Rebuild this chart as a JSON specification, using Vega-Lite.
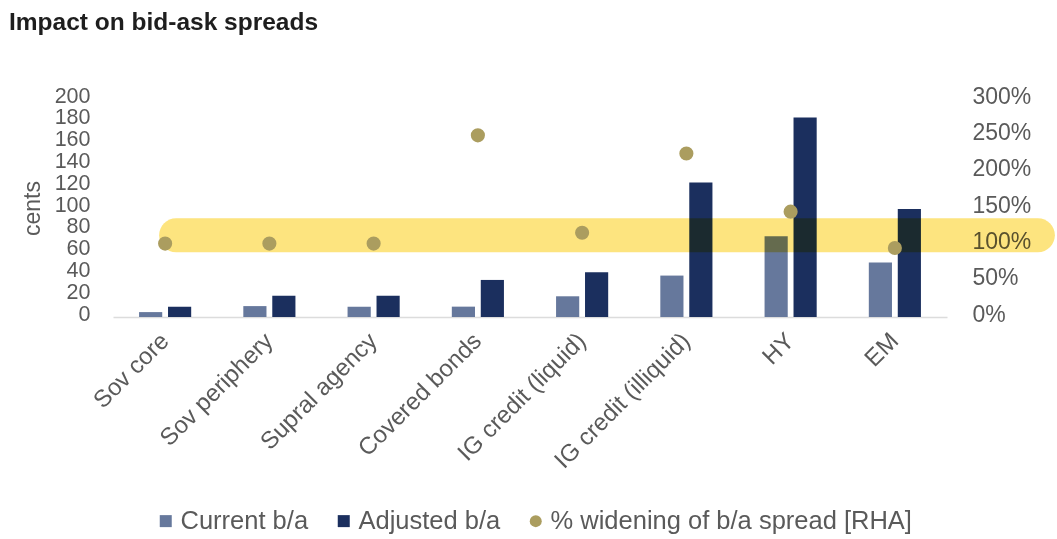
{
  "$schema": "https://vega.github.io/schema/vega-lite/v6.json",
  "width": 834,
  "height": 218,
  "autosize": {"type": "none"},
  "padding": {"left": 113, "top": 99, "right": 110, "bottom": 222},
  "background": "white",
  "title": {
    "text": "Impact on bid-ask spreads",
    "anchor": "start",
    "frame": "group",
    "dx": -104,
    "offset": 50,
    "fontSize": 24.5,
    "fontWeight": "bold",
    "color": "#1e1e1e",
    "font": "Liberation Sans"
  },
  "config": {
    "view": {"stroke": null},
    "font": "Liberation Sans",
    "axis": {
      "labelFont": "Liberation Sans",
      "labelColor": "#5a5a5a",
      "labelFontSize": 21.5,
      "titleFont": "Liberation Sans",
      "titleFontWeight": "normal",
      "titleColor": "#5a5a5a",
      "titleFontSize": 23,
      "grid": false,
      "ticks": false
    }
  },
  "datasets": {
    "bars": [
      {"category": "Sov core", "series": "Current b/a", "value": 4.5},
      {"category": "Sov core", "series": "Adjusted b/a", "value": 9.5},
      {"category": "Sov periphery", "series": "Current b/a", "value": 10},
      {"category": "Sov periphery", "series": "Adjusted b/a", "value": 19.5},
      {"category": "Supral agency", "series": "Current b/a", "value": 9.5},
      {"category": "Supral agency", "series": "Adjusted b/a", "value": 19.5},
      {"category": "Covered bonds", "series": "Current b/a", "value": 9.5},
      {"category": "Covered bonds", "series": "Adjusted b/a", "value": 34},
      {"category": "IG credit (liquid)", "series": "Current b/a", "value": 19},
      {"category": "IG credit (liquid)", "series": "Adjusted b/a", "value": 41},
      {"category": "IG credit (illiquid)", "series": "Current b/a", "value": 38},
      {"category": "IG credit (illiquid)", "series": "Adjusted b/a", "value": 123.5},
      {"category": "HY", "series": "Current b/a", "value": 74},
      {"category": "HY", "series": "Adjusted b/a", "value": 183},
      {"category": "EM", "series": "Current b/a", "value": 50},
      {"category": "EM", "series": "Adjusted b/a", "value": 99}
    ],
    "widening": [
      {"category": "Sov core", "series": "% widening of b/a spread [RHA]", "pct": 101},
      {"category": "Sov periphery", "series": "% widening of b/a spread [RHA]", "pct": 101},
      {"category": "Supral agency", "series": "% widening of b/a spread [RHA]", "pct": 101},
      {"category": "Covered bonds", "series": "% widening of b/a spread [RHA]", "pct": 250},
      {"category": "IG credit (liquid)", "series": "% widening of b/a spread [RHA]", "pct": 116},
      {"category": "IG credit (illiquid)", "series": "% widening of b/a spread [RHA]", "pct": 225},
      {"category": "HY", "series": "% widening of b/a spread [RHA]", "pct": 145},
      {"category": "EM", "series": "% widening of b/a spread [RHA]", "pct": 95}
    ],
    "highlight": [
      {"from": "Sov core", "to": "EM", "lo": 89, "hi": 136}
    ]
  },
  "encoding": {
    "x": {
      "field": "category",
      "type": "nominal",
      "scale": {
        "domain": ["Sov core", "Sov periphery", "Supral agency", "Covered bonds", "IG credit (liquid)", "IG credit (illiquid)", "HY", "EM"],
        "paddingInner": 0.5,
        "paddingOuter": 0.25
      },
      "axis": {
        "title": null,
        "labelAngle": -45,
        "labelAlign": "right",
        "labelBaseline": "middle",
        "labelFontSize": 24,
        "labelLimit": 400,
        "labelPadding": 20,
        "domain": true,
        "domainColor": "#dcdcdc",
        "domainWidth": 1.5
      }
    }
  },
  "layer": [
    {
      "data": {"name": "bars"},
      "mark": {"type": "bar"},
      "encoding": {
        "xOffset": {
          "field": "series",
          "type": "nominal",
          "sort": ["Current b/a", "Adjusted b/a"],
          "scale": {"paddingInner": 0.2}
        },
        "y": {
          "field": "value",
          "type": "quantitative",
          "scale": {"domain": [0, 200], "nice": false},
          "axis": {
            "orient": "left",
            "title": "cents",
            "values": [0, 20, 40, 60, 80, 100, 120, 140, 160, 180, 200],
            "labelOverlap": false,
            "labelPadding": 23,
            "labelOffset": -3,
            "titlePadding": 10,
            "domain": false
          }
        },
        "color": {
          "field": "series",
          "type": "nominal",
          "scale": {
            "domain": ["Current b/a", "Adjusted b/a", "% widening of b/a spread [RHA]"],
            "range": ["#66789c", "#1b2f5e", "#ab9d5f"]
          },
          "legend": {
            "orient": "none",
            "legendX": 40,
            "legendY": 409,
            "direction": "horizontal",
            "title": null,
            "labelFontSize": 25.5,
            "labelColor": "#5a5a5a",
            "labelFont": "Liberation Sans",
            "labelLimit": 600,
            "symbolSize": 144,
            "labelOffset": 2,
            "columnPadding": 22
          }
        }
      }
    },
    {
      "layer": [
        {
          "data": {"name": "highlight"},
          "mark": {
            "type": "rect",
            "color": "#fde47f",
            "cornerRadius": 17,
            "blend": "multiply",
            "xOffset": -6,
            "x2Offset": 160
          },
          "encoding": {
            "x": {"field": "from", "type": "nominal", "bandPosition": 0.5},
            "x2": {"field": "to", "bandPosition": 0.5},
            "y": {
              "field": "lo",
              "type": "quantitative",
              "scale": {"domain": [0, 300], "nice": false},
              "axis": {
                "orient": "right",
                "title": null,
                "values": [0, 50, 100, 150, 200, 250, 300],
                "labelExpr": "datum.value + '%'",
                "labelOverlap": false,
                "labelFontSize": 23,
                "labelPadding": 25,
                "labelOffset": -3,
                "domain": false
              }
            },
            "y2": {"field": "hi"}
          }
        },
        {
          "data": {"name": "widening"},
          "mark": {"type": "point", "filled": true, "size": 200, "opacity": 1},
          "encoding": {
            "y": {
              "field": "pct",
              "type": "quantitative",
              "scale": {"domain": [0, 300], "nice": false},
              "axis": {
                "orient": "right",
                "title": null,
                "values": [0, 50, 100, 150, 200, 250, 300],
                "labelExpr": "datum.value + '%'",
                "labelOverlap": false,
                "labelFontSize": 23,
                "labelPadding": 25,
                "labelOffset": -3,
                "domain": false
              }
            },
            "color": {"field": "series", "type": "nominal"},
            "shape": {
              "field": "series",
              "type": "nominal",
              "scale": {
                "domain": ["Current b/a", "Adjusted b/a", "% widening of b/a spread [RHA]"],
                "range": ["square", "square", "circle"]
              },
              "legend": {
                "orient": "none",
                "legendX": 40,
                "legendY": 409,
                "direction": "horizontal",
                "title": null,
                "labelFontSize": 25.5,
                "labelColor": "#5a5a5a",
                "labelFont": "Liberation Sans",
                "labelLimit": 600,
                "symbolSize": 144,
                "labelOffset": 2,
                "columnPadding": 22
              }
            }
          }
        }
      ]
    }
  ],
  "resolve": {"scale": {"y": "independent"}}
}
